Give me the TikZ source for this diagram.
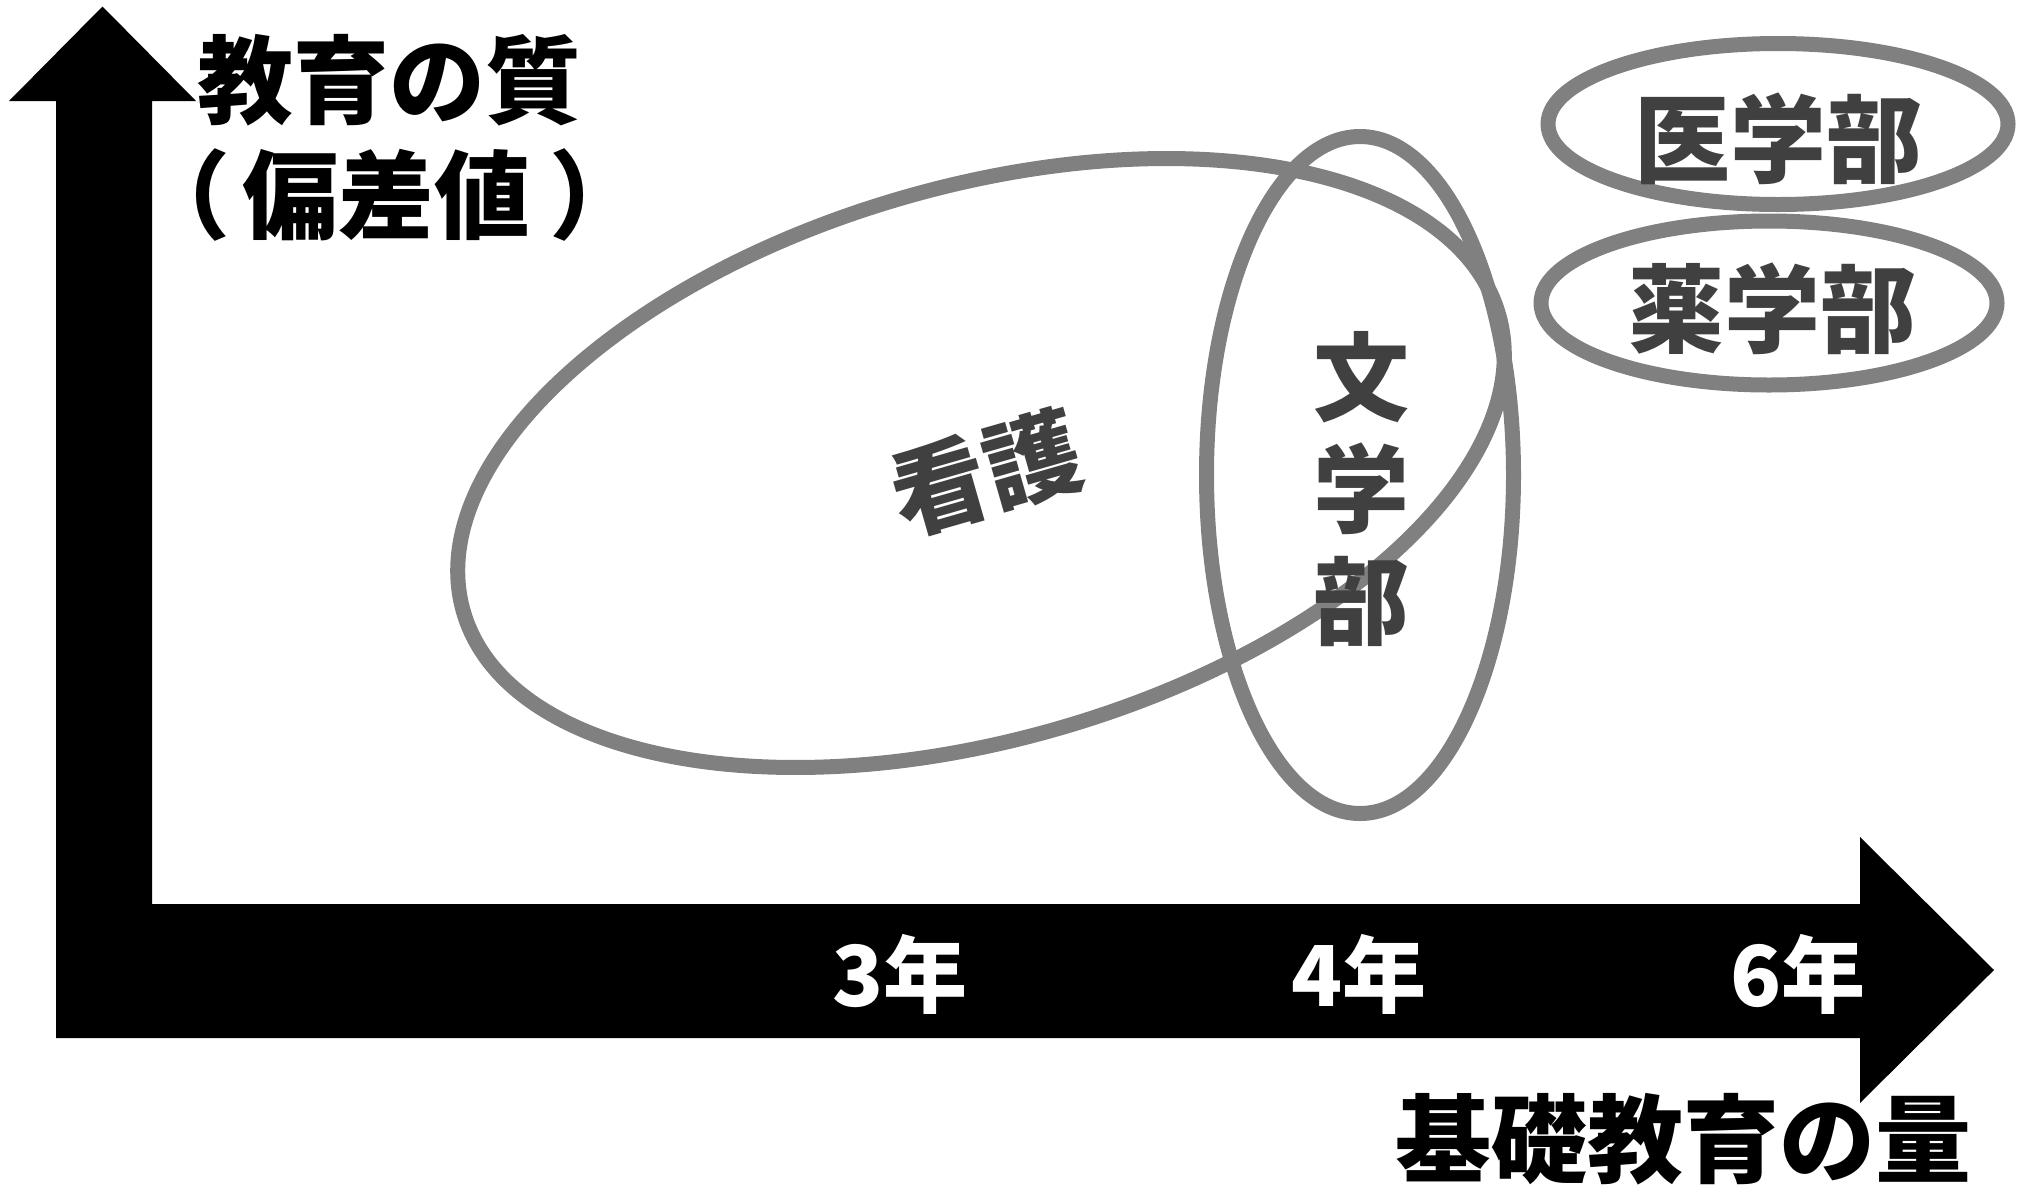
\documentclass[tikz,border=0pt]{standalone}
\usepackage{fontspec}
\usetikzlibrary{shapes.geometric}
\newfontfamily\jp{Noto Sans CJK JP}
\definecolor{ringgray}{HTML}{808080}
\definecolor{labelgray}{HTML}{404040}
\tikzset{
  ring/.style={draw=ringgray, line width=15pt, ellipse, inner sep=0pt},
  big/.style={inner sep=0pt, font=\jp\bfseries\fontsize{96}{96}\selectfont},
  dept/.style={big, text=labelgray},
  year/.style={inner sep=0pt, text=white, font=\jp\bfseries\fontsize{84}{84}\selectfont},
  axisfill/.style={fill=black}
}
\begin{document}
\begin{tikzpicture}[x=1pt,y=-1pt]
\useasboundingbox (0,0) rectangle (2034,1187);
% axes (L-shaped double arrow)
\fill[axisfill] (102.5,6.5) -- (196,101) -- (152,101) -- (152,904) -- (1860,904) -- (1860,837) -- (1994,970) -- (1860,1103) -- (1860,1038) -- (56,1038) -- (56,101) -- (9,101) -- cycle;
% rings
\node[ring, minimum width=1077pt, minimum height=553pt, rotate=16] (kango) at (981,463) {};
\node[ring, minimum width=307pt, minimum height=677pt] (bun) at (1360,475) {};
\node[ring, minimum width=460pt, minimum height=161pt] (igaku) at (1778,124) {};
\node[ring, minimum width=456pt, minimum height=164pt] (yaku) at (1769,303) {};
% labels
\node[dept] (tigaku) at (1778,139) {医学部};
\node[dept] (tyaku) at (1772,309) {薬学部};
\node[dept] (tbun1) at (1361,377) {文};
\node[dept] (tbun2) at (1361,489) {学};
\node[dept] (tbun3) at (1361,601) {部};
\node[dept, rotate=16] (tkango) at (986,473) {看護};
\node[big] (ylab1) at (389,80) {教育の質};
\node[big] (ylab2) at (390,195) {（\kern13pt 偏差値\kern19pt ）};
\node[big] (xlab) at (1683,1139) {基礎教育の量};
\node[year] (y3) at (900,974) {3年};
\node[year] (y4) at (1359,974) {4年};
\node[year] (y6) at (1798,974) {6年};
\end{tikzpicture}
\end{document}
